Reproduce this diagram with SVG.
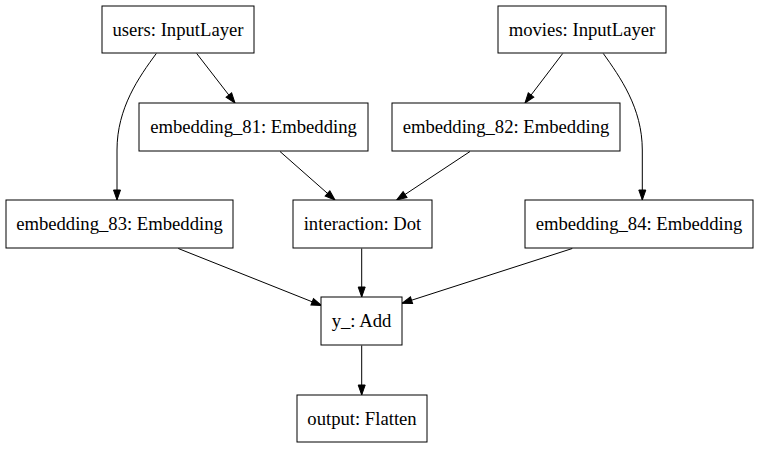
<svg xmlns="http://www.w3.org/2000/svg" width="759" height="449" viewBox="0 0 759 449">
<style>
.node rect{fill:#fff;stroke:#000;stroke-width:1}
.node text{font-family:"Liberation Serif","Times New Roman",serif;font-size:18.67px;text-anchor:middle;fill:#000}
.edges path{fill:none;stroke:#000;stroke-width:1;marker-end:url(#arr)}
</style>
<defs>
<marker id="arr" markerUnits="userSpaceOnUse" markerWidth="10" markerHeight="7" refX="10" refY="3.5" orient="auto" overflow="visible">
<path d="M0,0 L10,3.5 L0,7 Z" fill="#000" stroke="#000" stroke-width="1"/>
</marker>
</defs>
<rect width="759" height="449" fill="#fff"/>
<g class="edges" id="edges">
<path d="M196.7,53.5 L235,103"/>
<path d="M156.3,53.5 C139,77 117,108 117,150 L117,200"/>
<path d="M562.7,53.5 L525,103"/>
<path d="M603.3,53.5 C620,77 642.3,108 642.3,150 L642.3,200"/>
<path d="M280,151.5 L335,200"/>
<path d="M470,151.5 L396.7,200"/>
<path d="M361.7,248.5 L361.7,297"/>
<path d="M178.3,248.5 L321.5,305.5"/>
<path d="M572.3,248.5 L402,303.3"/>
<path d="M361.7,345.5 L361.7,395"/>
</g>
<g class="node" id="users"><rect x="102" y="6" width="152" height="47"/><text x="178" y="35.5">users: InputLayer</text></g>
<g class="node" id="movies"><rect x="498" y="6" width="168" height="47"/><text x="582" y="35.5">movies: InputLayer</text></g>
<g class="node" id="embedding_81"><rect x="139" y="103" width="229" height="48"/><text x="253.5" y="133">embedding_81: Embedding</text></g>
<g class="node" id="embedding_82"><rect x="392" y="103" width="228" height="48"/><text x="506" y="133">embedding_82: Embedding</text></g>
<g class="node" id="embedding_83"><rect x="6" y="200" width="227" height="48"/><text x="119.5" y="230">embedding_83: Embedding</text></g>
<g class="node" id="interaction"><rect x="293" y="200" width="139" height="48"/><text x="362.5" y="230">interaction: Dot</text></g>
<g class="node" id="embedding_84"><rect x="525" y="200" width="228" height="48"/><text x="639" y="230">embedding_84: Embedding</text></g>
<g class="node" id="y_"><rect x="321" y="297" width="81" height="48"/><text x="361.5" y="327">y_: Add</text></g>
<g class="node" id="output"><rect x="297" y="395" width="130" height="47"/><text x="362" y="424.5">output: Flatten</text></g>
</svg>
